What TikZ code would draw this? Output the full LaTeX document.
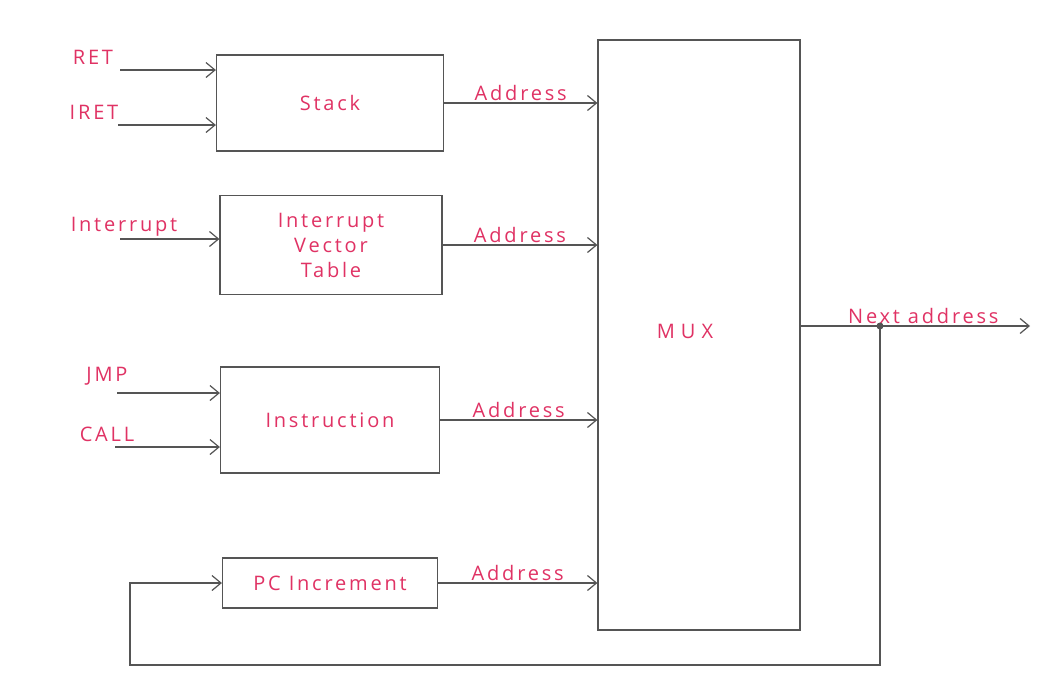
\documentclass[tikz,border=0pt]{standalone}
\usepackage{fontspec}
\newfontfamily\handfont[LetterSpace=14]{Open Sans}
\usetikzlibrary{arrows.meta,calc,positioning}
\definecolor{inkred}{RGB}{224,50,100}
\definecolor{pencil}{RGB}{85,85,85}

\begin{document}
\begin{tikzpicture}[x=1pt,y=-1pt,
  blk/.style={draw=pencil,line width=1.2pt,inner sep=0pt,align=center,
    text=inkred,font=\handfont\fontsize{20}{25}\selectfont},
  lbl/.style={text=inkred,inner sep=2pt,font=\handfont\fontsize{20}{24}\selectfont},
  wire/.style={draw=pencil,line width=1.2pt,-{Straight Barb[length=9pt,width=15pt]}}]
\fill[white] (0,0) rectangle (1049,681);
\useasboundingbox (0,0) rectangle (1049,681);
% blocks
\node[blk,minimum width=227pt,minimum height=96pt] (stack) at (330,103) {Stack};
\node[blk,minimum width=222pt,minimum height=99pt] (ivt) at (331,245) {Interrupt\\Vector\\Table};
\node[blk,minimum width=219pt,minimum height=106pt] (instr) at (330,420) {Instruction};
\node[blk,minimum width=215pt,minimum height=50pt] (pcinc) at (330,583) {PC Increment};
\node[blk,minimum width=202pt,minimum height=590pt,
  label={[lbl,xshift=-14pt,yshift=4pt]center:M\hspace{6pt}U\hspace{6pt}X}] (mux) at (699,335) {};
% input labels
\node[lbl] (retlbl) at (93,57) {RET};
\node[lbl] (iretlbl) at (94,112) {IRET};
\node[lbl] (intlbl) at (124,227) {Interrupt};
\node[lbl] (jmplbl) at (107,376) {JMP};
\node[lbl] (calllbl) at (107,434) {CALL};
\coordinate (ret) at (120,70);
\coordinate (iret) at (118,125);
\coordinate (int) at (120,239);
\coordinate (jmp) at (117,393);
\coordinate (call) at (115,447);
\draw[wire] (ret) -- (ret -| stack.west);
\draw[wire] (iret) -- (iret -| stack.west);
\draw[wire] (int) -- (int -| ivt.west);
\draw[wire] (jmp) -- (jmp -| instr.west);
\draw[wire] (call) -- (call -| instr.west);
% addresses into the mux
\draw[wire] (stack.east) -- node[lbl,above] (adr1) {Address} (stack.east -| mux.west);
\draw[wire] (ivt.east) -- node[lbl,above] (adr2) {Address} (ivt.east -| mux.west);
\draw[wire] (instr.east) -- node[lbl,above] (adr3) {Address} (instr.east -| mux.west);
\draw[wire] (pcinc.east) -- node[lbl,above] (adr4) {Address} (pcinc.east -| mux.west);
% output and feedback
\coordinate (muxout) at ($(mux.east)+(0,-9)$);
\coordinate (nxt) at (1030,326);
\coordinate (tap) at (880,326);
\coordinate (fb) at (130,665);
\draw[wire] (muxout) -- node[lbl,above,xshift=8pt] (nxtlbl) {Next address} (nxt);
\draw[wire] (tap) |- (fb) |- (pcinc.west);
\fill[pencil] (tap) circle (3.5pt);
\end{tikzpicture}
\end{document}
